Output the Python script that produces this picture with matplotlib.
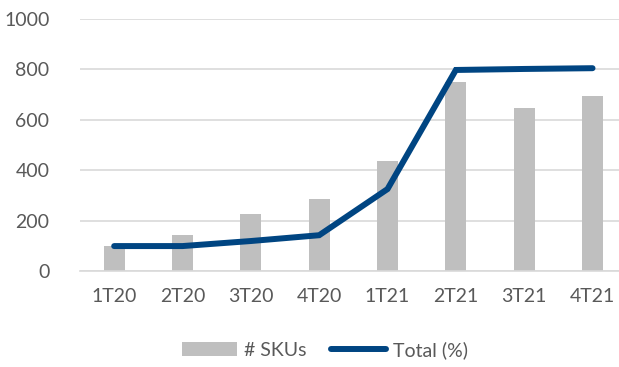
import matplotlib.pyplot as plt
import numpy as np

quarters = ["1T20", "2T20", "3T20", "4T20", "1T21", "2T21", "3T21", "4T21"]
skus = [100, 145, 226, 285, 437, 750, 648, 693]
total_pct = [100, 100, 120, 143, 326, 798, 802, 805]

plt.rcParams["font.family"] = ["Lato", "DejaVu Sans"]
text_color = "#595959"

fig = plt.figure(figsize=(6.19, 3.67), dpi=100)
ax = fig.add_axes([80 / 619, 95.7 / 367, 546.7 / 619, 252.3 / 367])

x = np.arange(len(quarters))
bars = ax.bar(x, skus, width=0.31, color="#BFBFBF", label="# SKUs", zorder=2)
line, = ax.plot(x, total_pct, color="#004582", linewidth=4.3, solid_capstyle="round",
                solid_joinstyle="miter", label="Total (%)", zorder=3)

ax.set_xlim(-0.5, len(quarters) - 0.5)
ax.set_ylim(0, 1000)
ax.set_yticks(range(0, 1001, 200))
ax.set_xticks(x)
ax.set_xticklabels(quarters)
ax.yaxis.grid(True, color="#D9D9D9", linewidth=1.2, zorder=0)
ax.set_axisbelow(True)
for side in ["top", "right", "left"]:
    ax.spines[side].set_visible(False)
ax.spines["bottom"].set_color("#D9D9D9")
ax.spines["bottom"].set_linewidth(1.2)
ax.tick_params(axis="both", length=0, labelsize=14, labelcolor=text_color)
ax.tick_params(axis="y", pad=22)
ax.tick_params(axis="x", pad=12)

fig.legend(handles=[bars, line], loc="center",
           bbox_to_anchor=(325 / 619, 1 - 350 / 367), ncol=2,
           frameon=False, fontsize=14, labelcolor=text_color,
           handlelength=2.8, handleheight=0.7, columnspacing=1.3, handletextpad=0.35)

fig.savefig("out.png", dpi=100)
